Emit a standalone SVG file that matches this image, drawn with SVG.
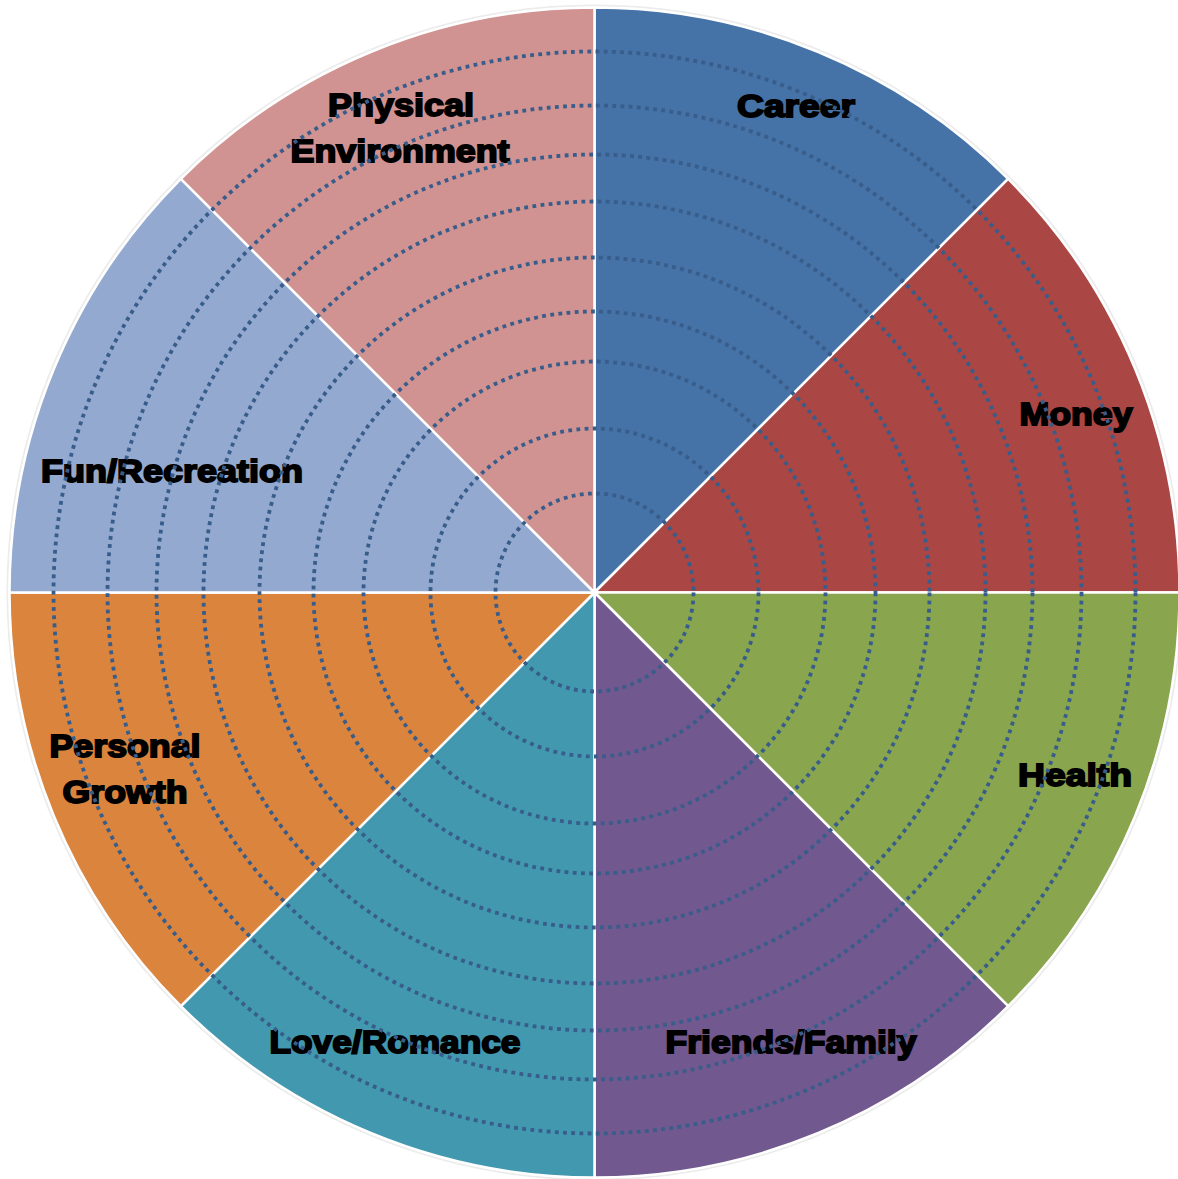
<svg xmlns="http://www.w3.org/2000/svg" width="1178" height="1179" viewBox="0 0 1178 1179">
<defs>
<style>
.sec{stroke:#fff;stroke-width:2.5;stroke-linejoin:miter}
.lbl{font-family:"Liberation Sans",Arial,sans-serif;font-weight:bold;font-size:31px;fill:#000;stroke:#000;stroke-width:1.8;text-anchor:middle}
.ring{fill:none;stroke:#385d8a;stroke-width:3.8;stroke-dasharray:3.8 4.4}
</style>
</defs>
<rect width="1178" height="1179" fill="#fff"/>
<circle cx="594.5" cy="592.5" r="587" fill="none" stroke="#ececec" stroke-width="2"/>
<g id="career"><path class="sec" fill="#4572a7" d="M594.5 592.5 L594.5 7.5 A585 585 0 0 1 1008.16 178.84 Z"/><text class="lbl" x="796" y="117" textLength="118" lengthAdjust="spacingAndGlyphs">Career</text></g>
<g id="money"><path class="sec" fill="#aa4643" d="M594.5 592.5 L1008.16 178.84 A585 585 0 0 1 1179.5 592.5 Z"/><text class="lbl" x="1076" y="425" textLength="113" lengthAdjust="spacingAndGlyphs">Money</text></g>
<g id="health"><path class="sec" fill="#89a54e" d="M594.5 592.5 L1179.5 592.5 A585 585 0 0 1 1008.16 1006.16 Z"/><text class="lbl" x="1075" y="786" textLength="114" lengthAdjust="spacingAndGlyphs">Health</text></g>
<g id="friends-family"><path class="sec" fill="#71588f" d="M594.5 592.5 L1008.16 1006.16 A585 585 0 0 1 594.5 1177.5 Z"/><text class="lbl" x="791" y="1053" textLength="251" lengthAdjust="spacingAndGlyphs">Friends/Family</text></g>
<g id="love-romance"><path class="sec" fill="#4198af" d="M594.5 592.5 L594.5 1177.5 A585 585 0 0 1 180.84 1006.16 Z"/><text class="lbl" x="395" y="1053" textLength="251" lengthAdjust="spacingAndGlyphs">Love/Romance</text></g>
<g id="personal-growth"><path class="sec" fill="#db843d" d="M594.5 592.5 L180.84 1006.16 A585 585 0 0 1 9.5 592.5 Z"/><text class="lbl" x="125" y="757" textLength="151" lengthAdjust="spacingAndGlyphs">Personal</text><text class="lbl" x="125" y="803" textLength="125" lengthAdjust="spacingAndGlyphs">Growth</text></g>
<g id="fun-recreation"><path class="sec" fill="#93a9cf" d="M594.5 592.5 L9.5 592.5 A585 585 0 0 1 180.84 178.84 Z"/><text class="lbl" x="172" y="482" textLength="262" lengthAdjust="spacingAndGlyphs">Fun/Recreation</text></g>
<g id="physical-environment"><path class="sec" fill="#d19392" d="M594.5 592.5 L180.84 178.84 A585 585 0 0 1 594.5 7.5 Z"/><text class="lbl" x="401" y="116" textLength="146" lengthAdjust="spacingAndGlyphs">Physical</text><text class="lbl" x="400" y="162" textLength="219" lengthAdjust="spacingAndGlyphs">Environment</text></g>
<g id="rings">
<circle class="ring" cx="594.5" cy="592.5" r="541"/>
<circle class="ring" cx="594.5" cy="592.5" r="487"/>
<circle class="ring" cx="594.5" cy="592.5" r="438"/>
<circle class="ring" cx="594.5" cy="592.5" r="391"/>
<circle class="ring" cx="594.5" cy="592.5" r="335"/>
<circle class="ring" cx="594.5" cy="592.5" r="281"/>
<circle class="ring" cx="594.5" cy="592.5" r="231"/>
<circle class="ring" cx="594.5" cy="592.5" r="164"/>
<circle class="ring" cx="594.5" cy="592.5" r="99"/>
</g>
</svg>
